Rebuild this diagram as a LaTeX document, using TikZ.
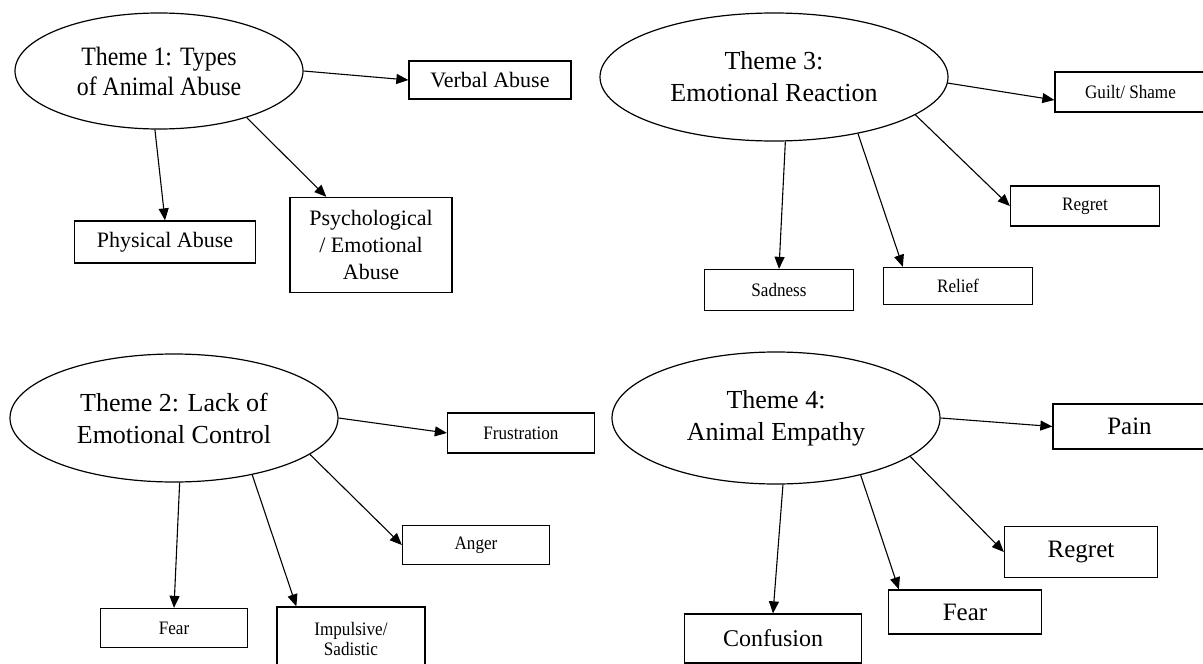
\documentclass[tikz,border=0pt]{standalone}
\usepackage{fontspec}
\setmainfont{Liberation Serif}
\newfontfamily\narrowserif{Liberation Serif}[FakeStretch=0.9]
\usetikzlibrary{shapes.geometric,arrows.meta,calc}

\tikzset{
  theme/.style={draw, ellipse, line width=1.2pt, inner sep=0pt, align=center},
  catbox/.style={draw, rectangle, line width=1.3pt, inner sep=0pt, align=center},
  link/.style={line width=1.1pt, -{Triangle[length=12pt,width=10pt]}},
  fbig/.style={font=\fontsize{26}{32}\selectfont},
  fnarrow/.style={font=\narrowserif\fontsize{26.5}{30}\selectfont},
  fmid/.style={font=\fontsize{24}{30}\selectfont},
  fbox/.style={font=\fontsize{22}{26.7}\selectfont},
  fsmall/.style={font=\narrowserif\fontsize{19}{20}\selectfont},
  flarge/.style={font=\fontsize{25}{30}\selectfont},
}

\begin{document}
\begin{tikzpicture}[x=1pt,y=-1pt]
\useasboundingbox (0,0) rectangle (1203,664);

% Theme 1: types of abuse
\node[theme, fnarrow, minimum width=288pt, minimum height=116pt] (t1) at (159,71) {Theme 1: Types\\of Animal Abuse};
\node[catbox, fbox, minimum width=162pt, minimum height=38pt] (v1) at (490,80) {Verbal Abuse};
\node[catbox, fbox, minimum width=181pt, minimum height=42pt] (p1) at (165,242) {Physical Abuse};
\node[catbox, fbox, minimum width=162pt, minimum height=95pt] (ps1) at (371,245) {Psychological\\/ Emotional\\Abuse};
\draw[link] (t1.east) -- (v1.west);
\draw[link] (t1.-94) -- (p1.north);
\draw[link] (t1.-28.6) -- ($(ps1.north west)+(37,0)$);

% Theme 3: emotional reaction
\node[theme, fbig, minimum width=348pt, minimum height=128pt] (t3) at (774,77) {Theme 3:\\Emotional Reaction};
\node[catbox, fsmall, minimum width=151pt, minimum height=40pt] (g3) at (1130.5,92) {Guilt/ Shame};
\node[catbox, fsmall, minimum width=149pt, minimum height=40pt] (r3) at (1085,206) {Regret};
\node[catbox, fsmall, minimum width=149pt, minimum height=41pt] (s3) at (779,290) {Sadness};
\node[catbox, fsmall, minimum width=149pt, minimum height=37pt] (rl3) at (958,286) {Relief};
\draw[link] (t3.-2) -- ($(g3.west)+(0,8)$);
\draw[link] (t3.-15.5) -- (r3.west);
\draw[link] (t3.-80.4) -- (s3.north);
\draw[link] (t3.-34.9) -- ($(rl3.north west)+(20,0)$);

% Theme 2: lack of emotional control
\node[theme, fbig, minimum width=328pt, minimum height=128pt] (t2) at (174,418) {Theme 2: Lack of\\Emotional Control};
\node[catbox, fsmall, minimum width=147pt, minimum height=40pt] (f2) at (521,433) {Frustration};
\node[catbox, fsmall, minimum width=147pt, minimum height=39pt] (a2) at (476,545) {Anger};
\node[catbox, fsmall, minimum width=147pt, minimum height=39pt] (fe2) at (174,628) {Fear};
\node[catbox, fsmall, minimum width=148pt, minimum height=64pt] (i2) at (351,639) {Impulsive/\\Sadistic};
\draw[link] (t2.east) -- (f2.west);
\draw[link] (t2.-15.5) -- (a2.west);
\draw[link] (t2.-85.5) -- (fe2.north);
\draw[link] (t2.-36.8) -- ($(i2.north west)+(20,0)$);

% Theme 4: animal empathy
\node[theme, fbig, minimum width=328pt, minimum height=132pt] (t4) at (776,418) {Theme 4:\\Animal Empathy};
\node[catbox, flarge, minimum width=153pt, minimum height=45pt] (pa4) at (1129.5,426.5) {Pain};
\node[catbox, flarge, minimum width=153pt, minimum height=51pt] (re4) at (1081,552) {Regret};
\node[catbox, flarge, minimum width=153pt, minimum height=44pt] (fe4) at (965,612) {Fear};
\node[catbox, fmid, minimum width=177pt, minimum height=49pt] (c4) at (773,638.5) {Confusion};
\draw[link] (t4.east) -- (pa4.west);
\draw[link] (t4.-16.9) -- (re4.west);
\draw[link] (t4.-34.7) -- ($(fe4.north west)+(11,0)$);
\draw[link] (t4.-84.8) -- (c4.north);
\end{tikzpicture}
\end{document}
